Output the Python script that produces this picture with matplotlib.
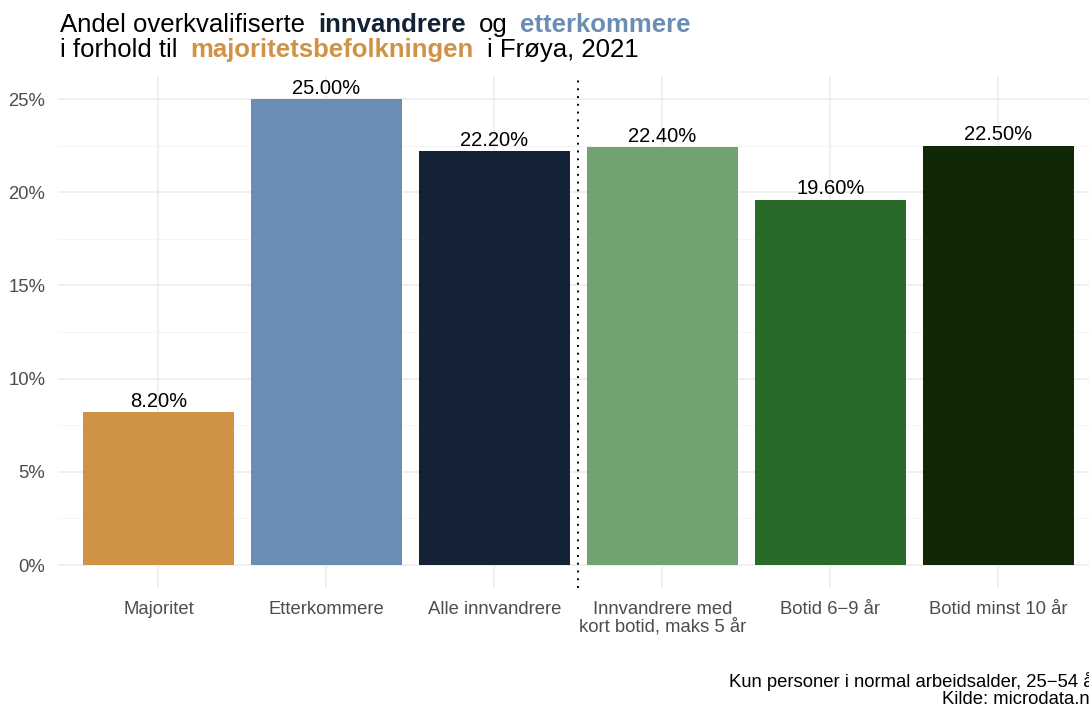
import matplotlib.pyplot as plt
import numpy as np

plt.rcParams['font.family'] = ['Liberation Sans', 'DejaVu Sans']

# andel overkvalifiserte (%), Frøya 2021
kategorier = ["Majoritet", "Etterkommere", "Alle innvandrere",
              "Innvandrere med\nkort botid, maks 5 år", "Botid 6\u22129 år", "Botid minst 10 år"]
andel = [8.2, 25.0, 22.2, 22.4, 19.6, 22.5]
farger = ["#D09245", "#6A8DB3", "#132235", "#71A372", "#296A28", "#102805"]
y_ticks = [0, 5, 10, 15, 20, 25]

W, H = 1089, 706
fig = plt.figure(figsize=(W / 100, H / 100), dpi=100)
ax = fig.add_axes([57.7 / W, 117.7 / H, (1099 - 57.7) / W, (588.3 - 75.7) / H])

x = np.arange(1, len(andel) + 1)
ax.bar(x, andel, width=0.9, color=farger, zorder=3)
for xi, v in zip(x, andel):
    ax.text(xi, v + 0.08, f"{v:.2f}%", ha="center", va="bottom",
            fontsize=14.5, color="black", zorder=4)

# skillelinje mellom hovedgrupper og botid
ax.axvline(3.5, color="black", lw=1.4, linestyle=(0, (1, 3)), zorder=4)

ax.set_xlim(0.4, 6.6)
ax.set_ylim(-1.25, 26.25)
ax.set_xticks(x)
ax.set_xticklabels(kategorier, fontsize=13.3, color="#4D4D4D", linespacing=1.05)
ax.set_yticks(y_ticks)
ax.set_yticklabels([f"{t}%" for t in y_ticks], fontsize=13.3, color="#4D4D4D")
ax.set_yticks([2.5, 7.5, 12.5, 17.5, 22.5], minor=True)
ax.tick_params(axis="both", which="both", length=0)
ax.tick_params(axis="x", pad=9)
ax.tick_params(axis="y", pad=9)
ax.grid(True, which="major", color="#EBEBEB", lw=1.1, zorder=0)
ax.grid(True, which="minor", axis="y", color="#F2F2F2", lw=0.6, zorder=0)
for s in ax.spines.values():
    s.set_visible(False)

# tittel med fargede ord
fig.canvas.draw()
renderer = fig.canvas.get_renderer()


def tittel_linje(deler, x0, y0):
    xp = x0
    for tekst, farge, vekt in deler:
        t = fig.text(xp / W, 1 - y0 / H, tekst, fontsize=18.5, color=farge,
                     fontweight=vekt, ha="left", va="baseline")
        bb = t.get_window_extent(renderer)
        xp += bb.width + 13


tittel_linje([("Andel overkvalifiserte", "black", "normal"),
              ("innvandrere", "#132235", "bold"),
              ("og", "black", "normal"),
              ("etterkommere", "#6A8DB3", "bold")], 60, 32)
tittel_linje([("i forhold til", "black", "normal"),
              ("majoritetsbefolkningen", "#D09245", "bold"),
              ("i Frøya, 2021", "black", "normal")], 60, 57)

fig.text(1100 / W, 1 - 690 / H,
         "Kun personer i normal arbeidsalder, 25\u221254 år\nKilde: microdata.no",
         ha="right", va="center", fontsize=13.3, color="black",
         multialignment="right", linespacing=0.95)

fig.savefig("out.png", dpi=100)
